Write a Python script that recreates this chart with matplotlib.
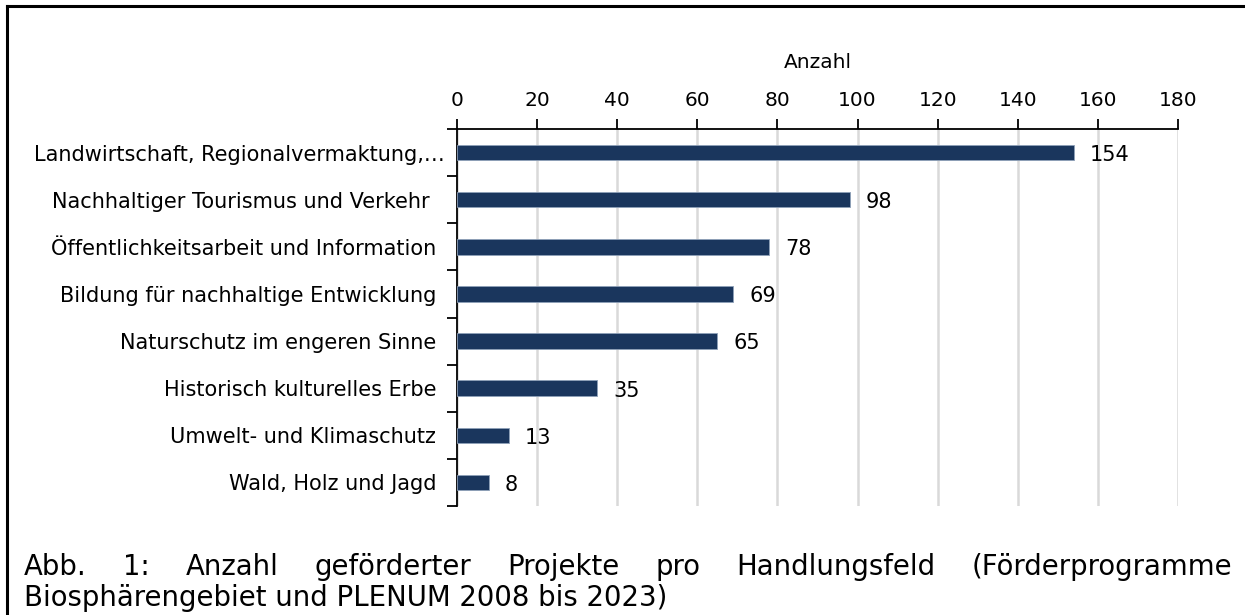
import matplotlib
matplotlib.use("Agg")
import matplotlib.pyplot as plt
from matplotlib.lines import Line2D
from matplotlib.transforms import ScaledTranslation

# Daten: Anzahl geförderter Projekte pro Handlungsfeld
kategorien = [
    "Landwirtschaft, Regionalvermaktung,…",
    "Nachhaltiger Tourismus und Verkehr ",
    "Öffentlichkeitsarbeit und Information",
    "Bildung für nachhaltige Entwicklung",
    "Naturschutz im engeren Sinne",
    "Historisch kulturelles Erbe",
    "Umwelt- und Klimaschutz",
    "Wald, Holz und Jagd",
]
anzahl = [154, 98, 78, 69, 65, 35, 13, 8]
x_ticks = [0, 20, 40, 60, 80, 100, 120, 140, 160, 180]

caption_1 = "Abb. 1: Anzahl geförderter Projekte pro Handlungsfeld (Förderprogramme"
caption_2 = "Biosphärengebiet und PLENUM 2008 bis 2023)"

W, H = 1245, 615
plt.rcParams['font.family'] = ['DejaVu Sans']
fig = plt.figure(figsize=(W / 100, H / 100), dpi=100)

# Achse in Pixelkoordinaten platzieren
left, right, top, bottom = 457, 1178, 129, 506
ax = fig.add_axes([left / W, 1 - bottom / H, (right - left) / W, (bottom - top) / H])

pos = list(range(len(kategorien)))
ax.barh(pos, anzahl, height=0.33, color='#1a365d', edgecolor='#8ea0b8',
        linewidth=0.6, zorder=3)
for p, v in zip(pos, anzahl):
    ax.text(v + 4, p + 0.05, str(v), va='center', ha='left', fontsize=15)

ax.set_xlim(0, 180)
ax.set_ylim(len(kategorien) - 0.5, -0.5)
ax.xaxis.tick_top()
ax.xaxis.set_label_position('top')
ax.set_xticks(x_ticks)
ax.set_xticklabels([str(t) for t in x_ticks], fontsize=14.5)
ax.set_xlabel("Anzahl", fontsize=14.5, labelpad=16)
ax.tick_params(axis='x', direction='out', length=7, width=1.3, pad=7)
ax.grid(axis='x', color='#d9d9d9', linewidth=1.8, zorder=0)

# y-Achse: Beschriftungen mittig, Striche zwischen den Kategorien
ax.set_yticks(pos)
ax.set_yticklabels(kategorien, fontsize=15)
ax.set_yticks([p + 0.5 for p in [-1] + pos], minor=True)
ax.tick_params(axis='y', which='major', length=0, pad=15)
ax.tick_params(axis='y', which='minor', direction='out', length=7, width=1.3)
# die abgeschnittene erste Beschriftung reicht näher an die Achse
lab0 = ax.get_yticklabels()[0]
lab0.set_transform(lab0.get_transform() + ScaledTranslation(9 / 100, 0, fig.dpi_scale_trans))

for s in ['right', 'bottom']:
    ax.spines[s].set_visible(False)
ax.spines['top'].set_linewidth(1.3)
ax.spines['left'].set_linewidth(1.3)

# Rahmen oben und links
fig.add_artist(Line2D([7 / W, 1], [1 - 6 / H, 1 - 6 / H], color='black', lw=2.2))
fig.add_artist(Line2D([7 / W, 7 / W], [0, 1 - 6 / H], color='black', lw=2.2))

# Bildunterschrift, erste Zeile im Blocksatz
fs_cap = 19.8
x0, x1 = 24, 1232
words = caption_1.split(" ")
fig.canvas.draw()
renderer = fig.canvas.get_renderer()
tmp = [fig.text(0, 0, w, fontsize=fs_cap) for w in words]
widths = [t.get_window_extent(renderer).width for t in tmp]
for t in tmp:
    t.remove()
gap = (x1 - x0 - sum(widths)) / (len(words) - 1)
x = x0
for w, wd in zip(words, widths):
    fig.text(x / W, 1 - 575 / H, w, fontsize=fs_cap, va='baseline', ha='left')
    x += wd + gap
fig.text(x0 / W, 1 - 606 / H, caption_2, fontsize=fs_cap, va='baseline', ha='left')

fig.savefig("out.png", dpi=100)
